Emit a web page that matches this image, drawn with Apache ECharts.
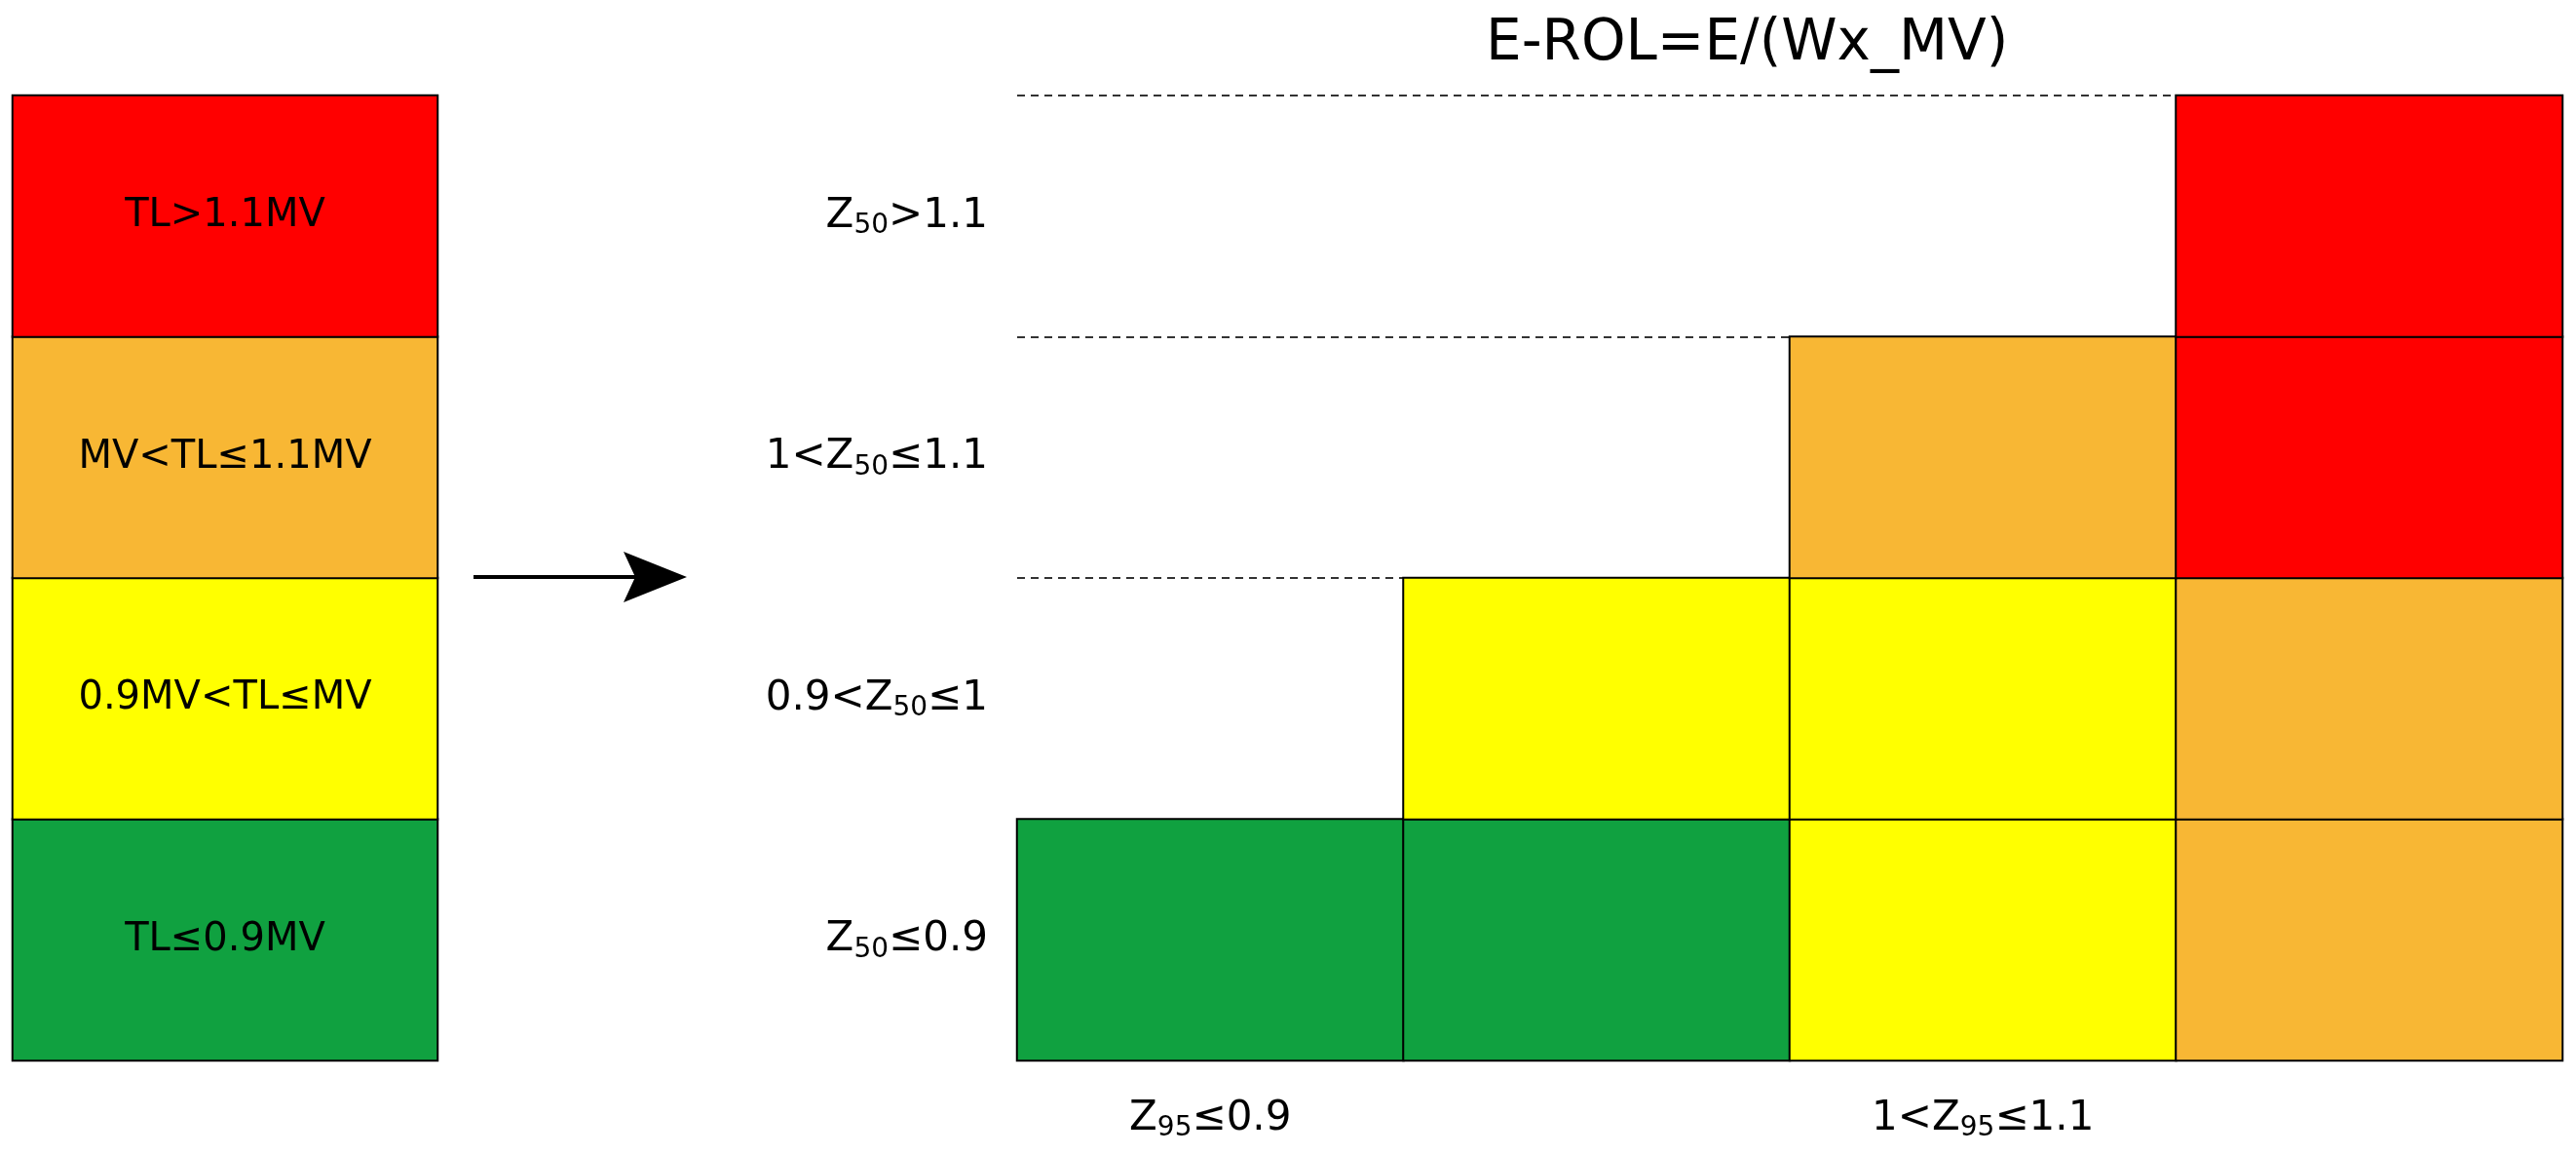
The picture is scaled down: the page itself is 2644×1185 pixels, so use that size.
<!DOCTYPE html>
<html><head><meta charset="utf-8">
<script src="https://cdn.jsdelivr.net/npm/echarts@6/dist/echarts.min.js"></script>
<style>html,body{margin:0;background:#fff}#c{width:2644px;height:1185px}</style>
</head><body><div id="c"></div>
<script>
// categories
var zCols = ['Z{s|95}≤0.9', '0.9<Z{s|95}≤1', '1<Z{s|95}≤1.1', 'Z{s|95}>1.1'];
var zRows = ['Z{s|50}≤0.9', '0.9<Z{s|50}≤1', '1<Z{s|50}≤1.1', 'Z{s|50}>1.1'];
var levels = ['TL≤0.9MV', '0.9MV<TL≤MV', 'MV<TL≤1.1MV', 'TL>1.1MV'];
var levelColors = ['#10a140', '#ffff00', '#f8b734', '#ff0000'];
// risk level per cell: [col, row, level]
var cells = [
  [0,0,0],[1,0,0],[2,0,1],[3,0,2],
  [1,1,1],[2,1,1],[3,1,2],
  [2,2,2],[3,2,3],
  [3,3,3]
];
var legendCells = [[0,0,0],[0,1,1],[0,2,2],[0,3,3]];

var font = 'DejaVu Sans';
var rich = {s: {fontSize: 28, verticalAlign: 'bottom', padding: [20,0,0,0], fontFamily: font, color: '#000'}};
var chart = echarts.init(document.getElementById('c'));
chart.setOption({
  animation: false,
  title: {text: 'E-ROL=E/(Wx_MV)', left: 1520, top: 12,
    textStyle: {fontFamily: font, fontWeight: 'normal', fontSize: 58, color: '#000'}},
  grid: [
    {left: 13, top: 98, width: 436, height: 990},
    {left: 1044, top: 98, width: 1586, height: 990}
  ],
  xAxis: [
    {gridIndex: 0, type: 'category', data: ['x'], show: false},
    {gridIndex: 1, type: 'category', data: zCols, axisLine: {show: false}, axisTick: {show: false},
      axisLabel: {margin: 36, fontFamily: font, fontSize: 42, color: '#000', rich: rich}}
  ],
  yAxis: [
    {gridIndex: 0, type: 'category', data: levels, show: false},
    {gridIndex: 1, type: 'category', data: zRows, axisLine: {show: false}, axisTick: {show: false},
      axisLabel: {margin: 30, fontFamily: font, fontSize: 42, color: '#000', rich: rich},
      splitLine: {show: true, lineStyle: {type: [8, 6], color: '#333', width: 2}}}
  ],
  visualMap: {show: false, type: 'piecewise', dimension: 2, seriesIndex: [0, 1],
    pieces: levelColors.map(function (c, i) { return {value: i, color: c}; })},
  graphic: [{type: 'line', shape: {x1: 486, y1: 592, x2: 680, y2: 592},
    style: {stroke: '#000', lineWidth: 4}},
    {type: 'polygon', shape: {points: [[640, 566], [705, 592], [640, 618], [652, 592]]},
    style: {fill: '#000'}}],
  series: [
    {type: 'heatmap', xAxisIndex: 0, yAxisIndex: 0, data: legendCells,
      itemStyle: {borderColor: '#000', borderWidth: 2},
      label: {show: true, fontFamily: font, fontSize: 40, color: '#000',
        formatter: function (p) { return levels[p.data[1]]; }}},
    {type: 'heatmap', xAxisIndex: 1, yAxisIndex: 1, data: cells,
      itemStyle: {borderColor: '#000', borderWidth: 2}}
  ]
});
</script></body></html>
